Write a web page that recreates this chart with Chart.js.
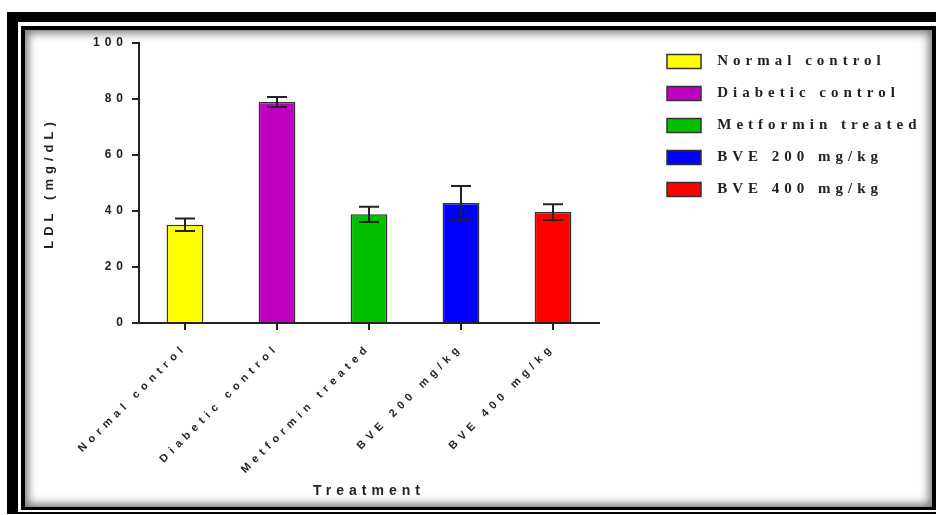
<!DOCTYPE html>
<html>
<head>
<meta charset="utf-8">
<title>LDL by treatment</title>
<script src="https://cdn.jsdelivr.net/npm/chart.js@4.4.1/dist/chart.umd.min.js"></script>
<style>
  body { margin: 0; background: #fff; }
  .frame { position: absolute; }
  #f1 { left: 7px; top: 12px; width: 929px; height: 502px; background: #000; }
  #f2 { left: 18px; top: 22px; width: 918px; height: 490px; background: #fff; }
  #f3 { left: 21px; top: 26px; width: 915px; height: 484px; background: #000; }
  #panel { left: 25px; top: 30px; width: 907px; height: 477px; background: #fff;
           box-shadow: inset 0 0 10px 3px rgba(0, 0, 0, 0.55); }
  #myChart { position: absolute; left: 0; top: 0; }
</style>
</head>
<body>
<div class="frame" id="f1"></div>
<div class="frame" id="f2"></div>
<div class="frame" id="f3"></div>
<div class="frame" id="panel"></div>
<canvas id="myChart" width="936" height="515"></canvas>
<script>
const treatments = ["Normal control", "Diabetic control", "Metformin treated", "BVE 200 mg/kg", "BVE 400 mg/kg"];
const ldl_mean = [35.1, 78.9, 38.8, 42.9, 39.6];
const ldl_sem = [2.2, 1.8, 2.7, 6.0, 2.8];
const bar_colors = ["#ffff00", "#c000c0", "#00c000", "#0000ff", "#ff0000"];
const ink = "#222";

// every label on this plot is drawn widely letter-spaced
const spaced_text = {
  id: "spaced_text",
  beforeLayout: (chart) => { chart.ctx.letterSpacing = "5px"; },
  beforeDraw: (chart) => { chart.ctx.letterSpacing = "5px"; },
};

// mean +/- SEM whiskers on top of each bar
const error_bars = {
  id: "error_bars",
  afterDatasetsDraw: (chart) => {
    const ctx = chart.ctx;
    const y = chart.scales.y;
    const bars = chart.getDatasetMeta(0).data;
    ctx.save();
    ctx.strokeStyle = ink;
    ctx.lineWidth = 2;
    bars.forEach((bar, i) => {
      const hi = y.getPixelForValue(ldl_mean[i] + ldl_sem[i]);
      const lo = y.getPixelForValue(ldl_mean[i] - ldl_sem[i]);
      ctx.beginPath();
      ctx.moveTo(bar.x, hi);
      ctx.lineTo(bar.x, lo);
      ctx.moveTo(bar.x - 10, hi);
      ctx.lineTo(bar.x + 10, hi);
      ctx.moveTo(bar.x - 10, lo);
      ctx.lineTo(bar.x + 10, lo);
      ctx.stroke();
    });
    ctx.restore();
  },
};

// push the legend away from the plot and up a little
const legend_nudge = {
  id: "legend_nudge",
  afterLayout: (chart) => {
    const lg = chart.legend;
    lg.left += 51;
    lg.right += 51;
    lg.top -= 6;
    lg.bottom -= 6;
  },
};

Chart.defaults.font.family = "'Liberation Sans', Arial, sans-serif";
Chart.defaults.font.weight = "bold";
Chart.defaults.color = ink;

window.draw_graph = () => {
  const ctx = document.getElementById("myChart").getContext("2d");
  const myChart = new Chart(ctx, {
    type: "bar",
    data: {
      labels: treatments,
      datasets: [
        {
          label: "LDL",
          data: ldl_mean,
          backgroundColor: bar_colors,
          borderColor: "#333",
          borderWidth: 1.5,
          categoryPercentage: 1,
          barPercentage: 0.4,
        },
      ],
    },
    options: {
      responsive: false,
      maintainAspectRatio: false,
      animation: false,
      layout: { padding: { left: 25, top: 43, right: 57, bottom: 10 } },
      plugins: {
        tooltip: { enabled: false },
        legend: {
          position: "right",
          align: "start",
          maxWidth: 280,
          labels: {
            boxWidth: 34,
            boxHeight: 14,
            padding: 17,
            color: ink,
            font: { family: "'Liberation Serif', 'Times New Roman', serif", size: 15, weight: "bold" },
            generateLabels: () =>
              treatments.map((name, i) => ({
                text: " " + name,
                fillStyle: bar_colors[i],
                strokeStyle: "#333",
                lineWidth: 1.5,
                hidden: false,
                index: i,
                fontColor: ink,
              })),
          },
        },
      },
      scales: {
        x: {
          afterFit: (scale) => { scale.height = 182; },
          grid: { display: true, drawOnChartArea: false, offset: false, tickLength: 7, color: ink, lineWidth: 2 },
          border: { display: true, color: ink, width: 2 },
          ticks: { minRotation: 45, maxRotation: 45, autoSkip: false, padding: 11, font: { size: 11 } },
          title: { display: true, text: "Treatment", font: { size: 14 }, padding: { top: 0, bottom: 5 } },
        },
        y: {
          min: 0,
          max: 100,
          afterFit: (scale) => { scale.width = 114; },
          grid: { display: true, drawOnChartArea: false, tickLength: 7, color: ink, lineWidth: 2 },
          border: { display: true, color: ink, width: 2 },
          ticks: { stepSize: 20, padding: 4, font: { size: 12 } },
          title: { display: true, text: "LDL (mg/dL)", font: { size: 13 }, padding: { top: 17, bottom: 0 } },
        },
      },
    },
    plugins: [spaced_text, error_bars, legend_nudge],
  });
};

draw_graph();
</script>
</body>
</html>
